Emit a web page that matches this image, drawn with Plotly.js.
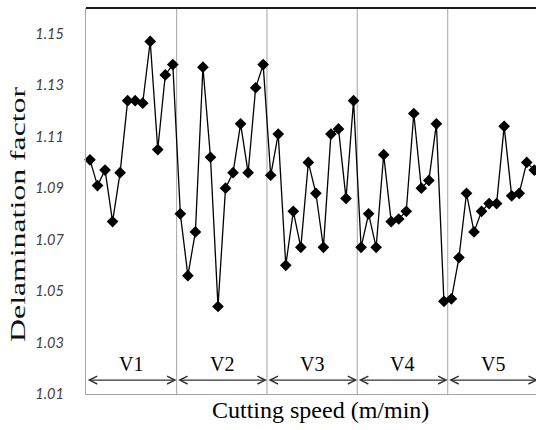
<!DOCTYPE html>
<html>
<head>
<meta charset="utf-8">
<script src="https://cdn.plot.ly/plotly-3.0.1.min.js"></script>
<style>html,body{margin:0;padding:0;background:#fff;}#chart{width:536px;height:430px;}</style>
</head>
<body>
<div id="chart"></div>
<script>
// Delamination factor readings, 12 per cutting speed level
var sections = ["V1", "V2", "V3", "V4", "V5"];
var v1 = [1.101, 1.091, 1.097, 1.077, 1.096, 1.124, 1.124, 1.123, 1.147, 1.105, 1.134, 1.138];
var v2 = [1.080, 1.056, 1.073, 1.137, 1.102, 1.044, 1.090, 1.096, 1.115, 1.096, 1.129, 1.138];
var v3 = [1.095, 1.111, 1.060, 1.081, 1.067, 1.100, 1.088, 1.067, 1.111, 1.113, 1.086, 1.124];
var v4 = [1.067, 1.080, 1.067, 1.103, 1.077, 1.078, 1.081, 1.119, 1.090, 1.093, 1.115, 1.046];
var v5 = [1.047, 1.063, 1.088, 1.073, 1.081, 1.084, 1.084, 1.114, 1.087, 1.088, 1.100, 1.097];
var yTicks = [1.01, 1.03, 1.05, 1.07, 1.09, 1.11, 1.13, 1.15];
var yTickText = ["1.01", "1.03", "1.05", "1.07", "1.09", "1.11", "1.13", "1.15"];
var yTitle = "Delamination factor";
var xTitle = "Cutting speed (m/min)";

var perSection = v1.length;
var yAll = [].concat(v1, v2, v3, v4, v5);
var xAll = yAll.map(function (_, i) { return i + 1; });

var serif = "'Liberation Serif', 'Times New Roman', serif";

var shapes = [];
var annotations = [];
var arrowY = 1.0154, labelY = 1.0216;
for (var s = 0; s < sections.length; s++) {
  var x0 = s * perSection + 0.5, x1 = (s + 1) * perSection + 0.5;
  if (s > 0) {
    shapes.push({type: "line", xref: "x", yref: "paper", x0: x0, x1: x0, y0: 0, y1: 1,
                 line: {color: "#b3b3b3", width: 1.2}, layer: "below"});
  }
  annotations.push({xref: "x", yref: "y", axref: "x", ayref: "y", x: x1, y: arrowY, ax: x0, ay: arrowY,
                    text: "", showarrow: true, arrowside: "end+start", arrowhead: 5, startarrowhead: 5,
                    arrowsize: 1.1, startarrowsize: 1.1, arrowwidth: 1.4, arrowcolor: "#333333",
                    standoff: 0, startstandoff: 0});
  annotations.push({xref: "x", yref: "y", x: (x0 + x1) / 2, y: labelY, text: sections[s], showarrow: false,
                    font: {family: serif, size: 20, color: "#000"}, xanchor: "center", yanchor: "middle"});
}
// top border
shapes.push({type: "line", xref: "paper", yref: "paper", x0: 0, x1: 1, y0: 1, y1: 1,
             line: {color: "#1a1a1a", width: 2}});

annotations.push({xref: "paper", yref: "paper", x: -0.153, y: 0.465, text: yTitle,
                  textangle: -90, showarrow: false, xanchor: "center", yanchor: "middle",
                  font: {family: serif, size: 20, color: "#111"}});
annotations.push({xref: "paper", yref: "paper", x: 0.522, y: -0.041, text: xTitle,
                  showarrow: false, xanchor: "center", yanchor: "middle",
                  font: {family: serif, size: 24, color: "#000"}});

var trace = {
  x: xAll, y: yAll, type: "scatter", mode: "lines+markers",
  line: {color: "#000", width: 1.3},
  marker: {symbol: "diamond", size: 9, color: "#000"},
  cliponaxis: false
};

var layout = {
  width: 536, height: 430,
  margin: {l: 86, r: 0, t: 8, b: 36, pad: 0},
  paper_bgcolor: "#fff", plot_bgcolor: "#fff",
  showlegend: false,
  xaxis: {range: [0.47, 60.23], showgrid: false, zeroline: false, showticklabels: false, ticks: "",
          showline: true, linecolor: "#a6a6a6", linewidth: 1.2},
  yaxis: {range: [1.01, 1.16], tickvals: yTicks, ticktext: yTickText, showgrid: false, zeroline: false,
          ticks: "", ticklabelstandoff: 18, showline: true, linecolor: "#a6a6a6", linewidth: 1.2,
          tickfont: {family: "Lato, 'Open Sans', sans-serif", size: 14.5, color: "#404040", style: "italic"}},
  shapes: shapes,
  annotations: annotations
};

Plotly.newPlot("chart", [trace], layout, {displayModeBar: false, staticPlot: true}).then(function () {
  // the reference's vertical title is drawn stretched along its length
  document.querySelectorAll(".annotation-text").forEach(function (t) {
    if (t.textContent === yTitle) {
      t.setAttribute("textLength", "255");
      t.setAttribute("lengthAdjust", "spacingAndGlyphs");
    }
  });
});
</script>
</body>
</html>
